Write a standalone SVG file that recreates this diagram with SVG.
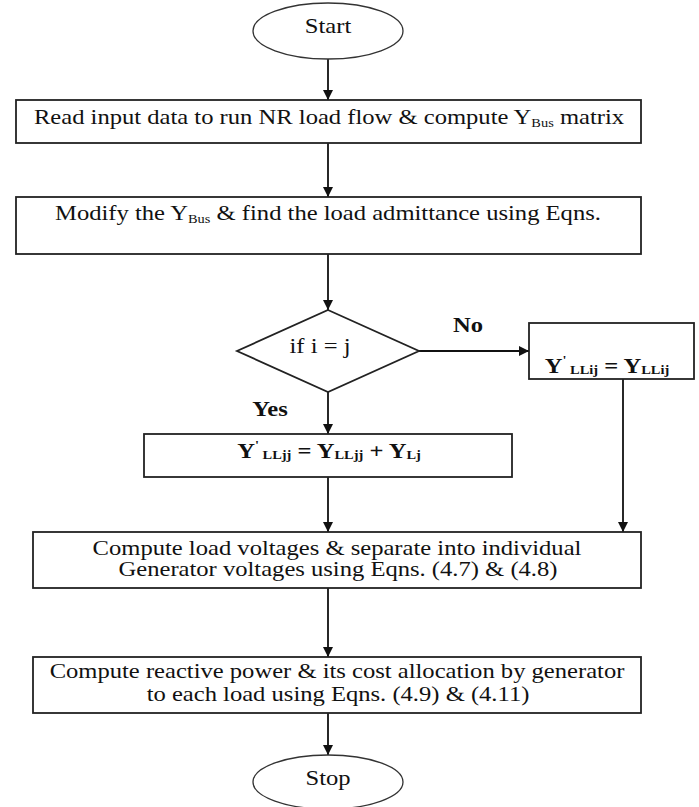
<svg xmlns="http://www.w3.org/2000/svg" width="699" height="807" viewBox="0 0 699 807">
<defs>
<marker id="arr" markerUnits="userSpaceOnUse" markerWidth="10" markerHeight="12" refX="10" refY="5" orient="auto">
<path d="M0,0 L10,5 L0,10 Z" fill="#111"/>
</marker>
<style>
.box{fill:#fff;stroke:#222;stroke-width:1.8}
.oval{fill:#fff;stroke:#333;stroke-width:1.3}
.con{stroke:#111;stroke-width:1.8;fill:none;marker-end:url(#arr)}
text{font-family:"Liberation Serif","Times New Roman",serif;font-size:20.5px;fill:#111}
.b{font-weight:bold}
.sub{font-size:12px}
.sup{font-size:12px}
</style>
</defs>
<rect width="699" height="807" fill="#fff"/>
<g id="connectors">
<line class="con" x1="328" y1="59" x2="328" y2="100"/>
<line class="con" x1="328" y1="143" x2="328" y2="197"/>
<line class="con" x1="328" y1="254" x2="328" y2="310"/>
<line class="con" x1="419" y1="351" x2="529" y2="351"/>
<line class="con" x1="328" y1="392" x2="328" y2="434"/>
<line class="con" x1="328" y1="477" x2="328" y2="532"/>
<line class="con" x1="623" y1="379" x2="623" y2="532"/>
<line class="con" x1="328" y1="588" x2="328" y2="657"/>
<line class="con" x1="328" y1="713" x2="328" y2="755"/>
<text class="b" transform="translate(468,332) scale(1.2,1)" text-anchor="middle">No</text>
<text class="b" transform="translate(270,416) scale(1.2,1)" text-anchor="middle">Yes</text>
</g>
<g id="start">
<ellipse class="oval" cx="328" cy="31" rx="75" ry="28"/>
<text transform="translate(328,33) scale(1.2,1)" text-anchor="middle">Start</text>
</g>
<g id="read">
<rect class="box" x="16" y="100" width="625" height="43"/>
<text transform="translate(329,124) scale(1.2,1)" text-anchor="middle">Read input data to run NR load flow &amp; compute Y<tspan class="sub" dy="3">Bus</tspan><tspan dy="-3"> matrix</tspan></text>
</g>
<g id="modify">
<rect class="box" x="16" y="197" width="625" height="57"/>
<text transform="translate(328,220) scale(1.2,1)" text-anchor="middle">Modify the Y<tspan class="sub" dy="3">Bus</tspan><tspan dy="-3"> &amp; find the load admittance using Eqns.</tspan></text>
</g>
<g id="decision">
<polygon class="box" points="328,310 419,351 328,392 237,351" stroke-width="1.4"/>
<text transform="translate(320,353) scale(1.2,1)" text-anchor="middle">if i = j</text>
</g>
<g id="no-box">
<rect class="box" x="529" y="323" width="165" height="56"/>
<text class="b" transform="translate(607,373) scale(1.2,1)" text-anchor="middle">Y<tspan class="sup" dy="-9">'</tspan><tspan class="sub" dy="10"> LLij</tspan><tspan dy="-1"> = Y</tspan><tspan class="sub" dy="1">LLij</tspan></text>
</g>
<g id="yes-box">
<rect class="box" x="144" y="434" width="368" height="43"/>
<text class="b" transform="translate(329,458) scale(1.2,1)" text-anchor="middle">Y<tspan class="sup" dy="-9">'</tspan><tspan class="sub" dy="10"> LLjj</tspan><tspan dy="-1"> = Y</tspan><tspan class="sub" dy="1">LLjj</tspan><tspan dy="-1"> + Y</tspan><tspan class="sub" dy="1">Lj</tspan></text>
</g>
<g id="compute-voltages">
<rect class="box" x="33" y="532" width="608" height="56"/>
<text transform="translate(337,555) scale(1.2,1)" text-anchor="middle">Compute load voltages &amp; separate into individual</text>
<text transform="translate(338,576) scale(1.2,1)" text-anchor="middle">Generator voltages using Eqns. (4.7) &amp; (4.8)</text>
</g>
<g id="compute-reactive">
<rect class="box" x="33" y="657" width="608" height="56"/>
<text transform="translate(337,678) scale(1.2,1)" text-anchor="middle">Compute reactive power &amp; its cost allocation by generator</text>
<text transform="translate(338,701) scale(1.2,1)" text-anchor="middle">to each load using Eqns. (4.9) &amp; (4.11)</text>
</g>
<g id="stop">
<ellipse class="oval" cx="328" cy="782" rx="75" ry="27"/>
<text transform="translate(328,785) scale(1.2,1)" text-anchor="middle">Stop</text>
</g>
</svg>
